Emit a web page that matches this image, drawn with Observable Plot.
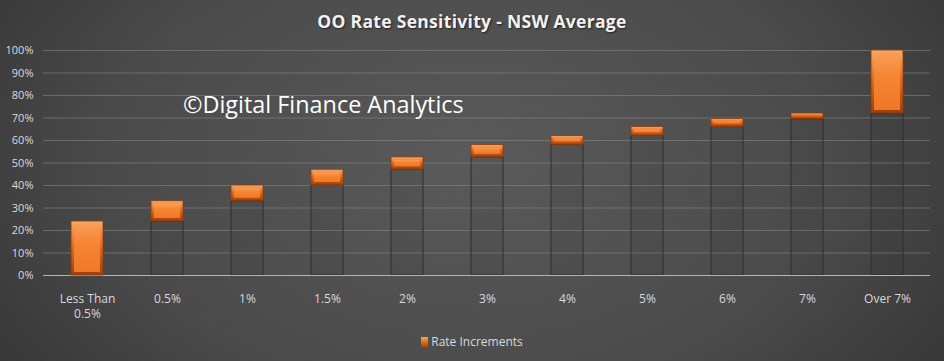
<!DOCTYPE html>
<html>
<head>
<meta charset="utf-8">
<script src="https://cdn.jsdelivr.net/npm/d3@7"></script>
<script src="https://cdn.jsdelivr.net/npm/@observablehq/plot@0.6"></script>
<style>
  html, body { margin: 0; padding: 0; }
  body { width: 944px; height: 361px; overflow: hidden;
    background: radial-gradient(ellipse 70% 120% at 50% 45%, #5a5a5a 0%, #4a4a4a 55%, #2e2e2e 100%); }
  #wrap { position: relative; width: 944px; height: 361px; font-family: "Open Sans", sans-serif; }
  #title { position: absolute; left: 0; width: 944px; top: 9px; text-align: center;
    font-weight: bold; font-size: 17.5px; color: #f2f2f2; letter-spacing: 0.3px;
    text-shadow: 1px 1px 2px rgba(0,0,0,0.6); }
  #mark { position: absolute; left: 183px; top: 88px; font-size: 23.4px; color: #ffffff; white-space: nowrap; }
  #legend { position: absolute; top: 333px; left: 0; width: 944px; text-align: center; font-size: 12px; color: #d9d9d9; }
  #legend span.sw { display: inline-block; width: 7px; height: 10px; margin-right: 3px; vertical-align: -1px;
    background: linear-gradient(#f7a463, #e46c0a 50%, #a8450c); }
  svg.plot { position: absolute; left: 0; top: 0; background: transparent; }
</style>
</head>
<body>
<div id="wrap">
  <div id="title">OO Rate Sensitivity - NSW Average</div>
  <div id="legend"><span class="sw"></span>Rate Increments</div>
</div>
<script>
const categories = ["Less Than\n0.5%", "0.5%", "1%", "1.5%", "2%", "3%", "4%", "5%", "6%", "7%", "Over 7%"];
const increments = [24, 9, 7, 7, 5.5, 5.5, 4, 4, 3.5, 2.5, 28];
const yTicks = [0, 10, 20, 30, 40, 50, 60, 70, 80, 90, 100];

const tops = Array.from(d3.cumsum(increments));
const data = categories.map((c, i) => ({cat: c, base: tops[i] - increments[i], top: tops[i]}));

const chart = Plot.plot({
  width: 944,
  height: 361,
  marginTop: 50,
  marginBottom: 86,
  marginLeft: 43,
  marginRight: 14,
  style: {background: "transparent", color: "#d9d9d9", fontFamily: "Open Sans, sans-serif", fontSize: "11px"},
  x: {domain: categories, paddingInner: 0.6, paddingOuter: 0.3, label: null},
  y: {domain: [0, 100], label: null},
  marks: [
    Plot.gridY(yTicks, {stroke: "#8a8a8a", strokeOpacity: 0.55, strokeWidth: 1}),
    Plot.barY(data, {x: "cat", y1: 0, y2: "base", fill: "rgba(0,0,0,0.04)", stroke: "#2e2e2e", strokeWidth: 1}),
    Plot.ruleY([0], {stroke: "#b5b5b5", strokeWidth: 1}),
    Plot.barY(data, {x: "cat", y1: "base", y2: "top", fill: "url(#bevelOuter)", stroke: "#8a3a08", strokeWidth: 0.8}),
    Plot.barY(data, {x: "cat", y1: "base", y2: "top", fill: "url(#bevelInner)", insetLeft: 3, insetRight: 3, insetTop: 3, insetBottom: 3}),
    Plot.axisY(yTicks, {tickSize: 0, tickPadding: 10, tickFormat: d => d + "%", fontSize: 11, fill: "#d9d9d9", label: null}),
    Plot.axisX({tickSize: 0, tickPadding: 16, fontSize: 12, lineHeight: 1.3, fill: "#d9d9d9", label: null})
  ]
});

const ns = "http://www.w3.org/2000/svg";
const defs = document.createElementNS(ns, "defs");
defs.innerHTML = `
  <linearGradient id="bevelOuter" x1="0" y1="0" x2="0" y2="1">
    <stop offset="0" stop-color="#f8a868"/>
    <stop offset="0.5" stop-color="#e0661a"/>
    <stop offset="1" stop-color="#9c400c"/>
  </linearGradient>
  <linearGradient id="bevelInner" x1="0" y1="0" x2="0" y2="1">
    <stop offset="0" stop-color="#fa9d55"/>
    <stop offset="0.4" stop-color="#f68532"/>
    <stop offset="1" stop-color="#ef7828"/>
  </linearGradient>`;
chart.insertBefore(defs, chart.firstChild);

const wrap = document.getElementById("wrap");
wrap.insertBefore(chart, wrap.firstChild);
const mark = document.createElement("div");
mark.id = "mark";
mark.textContent = "©Digital Finance Analytics";
wrap.appendChild(mark);
</script>
</body>
</html>
